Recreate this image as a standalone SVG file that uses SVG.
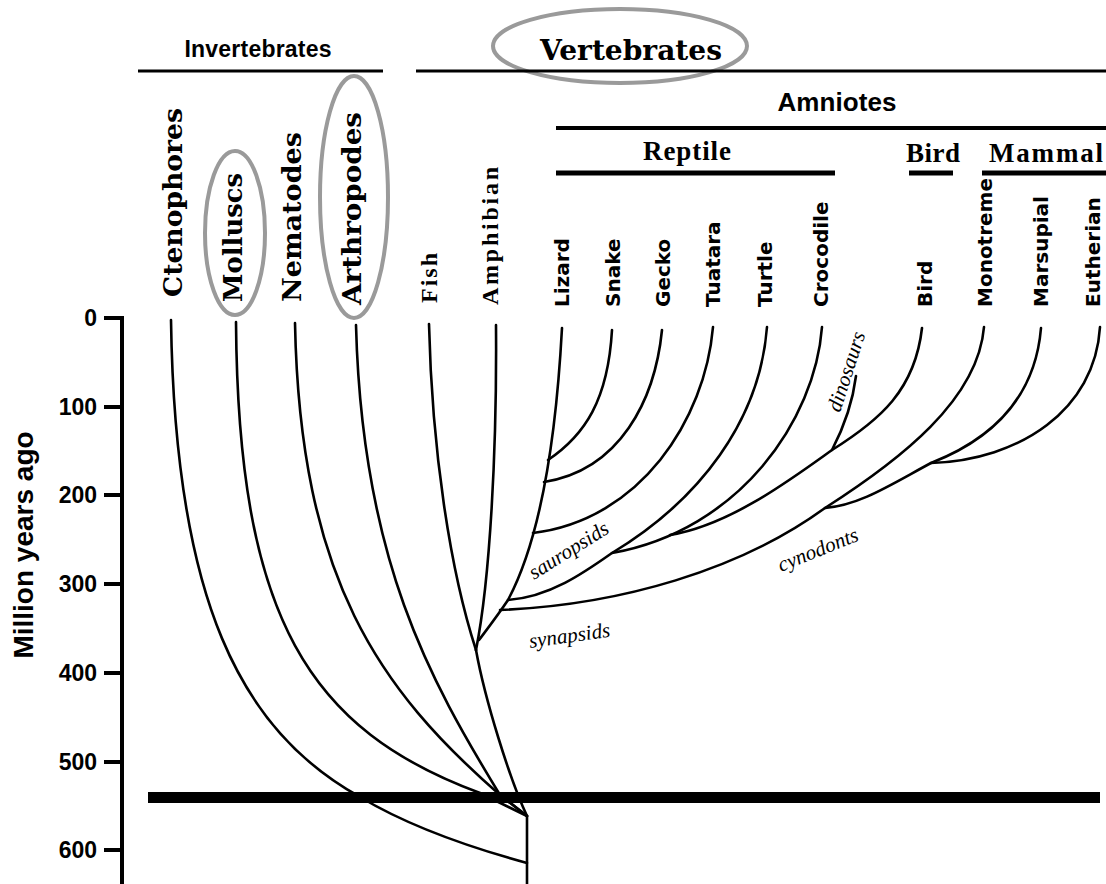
<svg xmlns="http://www.w3.org/2000/svg" width="1106" height="884" viewBox="0 0 1106 884">
<style>
.tree{fill:none;stroke:#000;stroke-width:2.6;stroke-linecap:round;stroke-linejoin:round}
.bar{stroke:#000;fill:none}
.oval{fill:none;stroke:#9a9a9a;stroke-width:4}
.sans{font-family:"Liberation Sans",Arial,sans-serif;font-weight:bold;fill:#000}
.taxon{font-family:"DejaVu Sans",sans-serif;font-weight:bold;font-size:20px;fill:#000}
.fancy{font-family:"DejaVu Serif",serif;font-weight:bold;fill:#000}
.serif{font-family:"Liberation Serif","Times New Roman",serif;font-weight:bold;fill:#000}
.ital{font-family:"Liberation Serif","Times New Roman",serif;font-style:italic;font-size:21px;fill:#000}
.tick{font-family:"Liberation Sans",Arial,sans-serif;font-weight:bold;font-size:23px;text-anchor:end}
</style>
<rect width="1106" height="884" fill="#fff"/>

<g id="headers">
  <g id="invertebrates">
    <text class="sans" x="258" y="57" font-size="23" text-anchor="middle" textLength="147">Invertebrates</text>
    <line class="bar" x1="138" y1="71" x2="383" y2="71" stroke-width="3"/>
  </g>
  <g id="vertebrates">
    <ellipse class="oval" cx="620" cy="46" rx="127" ry="37"/>
    <text class="fancy" x="540" y="60" font-size="28" textLength="182" lengthAdjust="spacingAndGlyphs">Vertebrates</text>
    <line class="bar" x1="416" y1="71" x2="1106" y2="71" stroke-width="3"/>
  </g>
  <g id="amniotes">
    <text class="sans" x="837" y="111" font-size="26" text-anchor="middle" textLength="119">Amniotes</text>
    <line class="bar" x1="556" y1="128" x2="1106" y2="128" stroke-width="4"/>
  </g>
  <g id="reptile">
    <text class="serif" x="687" y="160" font-size="27" text-anchor="middle" textLength="88">Reptile</text>
    <line class="bar" x1="556" y1="173" x2="835" y2="173" stroke-width="5"/>
  </g>
  <g id="bird-group">
    <text class="serif" x="933" y="162" font-size="27" text-anchor="middle" textLength="54">Bird</text>
    <line class="bar" x1="909" y1="173" x2="953" y2="173" stroke-width="5"/>
  </g>
  <g id="mammal">
    <text class="serif" x="1046" y="162" font-size="27" text-anchor="middle" textLength="114">Mammal</text>
    <line class="bar" x1="982" y1="173" x2="1106" y2="173" stroke-width="5"/>
  </g>
</g>

<g id="axis">
  <text class="sans" font-size="28" transform="translate(33,545) rotate(-90)" text-anchor="middle">Million years ago</text>
  <line x1="122" y1="316" x2="122" y2="884" stroke="#000" stroke-width="4"/>
  <g stroke="#000" stroke-width="4">
    <line x1="104" y1="318" x2="122" y2="318"/>
    <line x1="104" y1="407" x2="122" y2="407"/>
    <line x1="104" y1="495" x2="122" y2="495"/>
    <line x1="104" y1="584" x2="122" y2="584"/>
    <line x1="104" y1="673" x2="122" y2="673"/>
    <line x1="104" y1="762" x2="122" y2="762"/>
    <line x1="104" y1="850" x2="122" y2="850"/>
  </g>
  <text class="tick" x="97" y="326">0</text>
  <text class="tick" x="97" y="415">100</text>
  <text class="tick" x="97" y="503">200</text>
  <text class="tick" x="97" y="592">300</text>
  <text class="tick" x="97" y="681">400</text>
  <text class="tick" x="97" y="770">500</text>
  <text class="tick" x="97" y="858">600</text>
</g>

<g id="connectors">
  <path class="tree" d="M171,320 C175,600 240,730 360,797 C395,818 450,842 527,863"/>
  <path class="tree" d="M236,322 C238,620 310,730 480,793 L527,816"/>
  <path class="tree" d="M295,323 C300,580 380,690 500,795 L527,816"/>
  <path class="tree" d="M356,325 C362,560 430,680 500,795 L527,816"/>
  <path class="tree" d="M429,324 C432,450 450,570 476,650"/>
  <path class="tree" d="M496,325 C497,450 490,580 476,650"/>
  <path class="tree" d="M476,650 C485,700 510,780 527,816 L527,884"/>
  <path class="tree" d="M562,328 C556,440 540,540 508,600 C498,615 488,628 479,640"/>
  <path class="tree" d="M612,330 C608,400 585,435 548,460"/>
  <path class="tree" d="M662,330 C655,400 620,470 544,482"/>
  <path class="tree" d="M713,327 C705,420 640,520 533,533"/>
  <path class="tree" d="M767,327 C760,420 700,500 612,553 C585,572 550,597 508,600"/>
  <path class="tree" d="M822,327 C815,420 740,530 612,553"/>
  <path class="tree" d="M922,328 C915,390 880,420 832,450 C790,480 730,525 670,535"/>
  <path class="tree" d="M832,450 C845,425 853,400 856,376"/>
  <path class="tree" d="M500,610 C620,605 740,570 825,508 C900,460 978,400 984,327"/>
  <path class="tree" d="M1041,328 C1035,400 990,440 931,463 C890,485 860,505 825,508"/>
  <path class="tree" d="M1100,327 C1095,410 1020,460 931,463"/>
</g>

<rect id="extinction-bar" x="148" y="792" width="952" height="11" fill="#000"/>

<g id="ctenophores"><text class="fancy" font-size="26" transform="translate(182,297) rotate(-90)" textLength="189" lengthAdjust="spacingAndGlyphs">Ctenophores</text></g>
<g id="molluscs"><ellipse class="oval" cx="235" cy="233" rx="30" ry="82"/><text class="fancy" font-size="26" transform="translate(242,302) rotate(-90)" textLength="129" lengthAdjust="spacingAndGlyphs">Molluscs</text></g>
<g id="nematodes"><text class="fancy" font-size="26" transform="translate(301,302) rotate(-90)" textLength="170" lengthAdjust="spacingAndGlyphs">Nematodes</text></g>
<g id="arthropodes"><ellipse class="oval" cx="354" cy="197" rx="34" ry="121"/><text class="fancy" font-size="26" transform="translate(361,305) rotate(-90)" textLength="193" lengthAdjust="spacingAndGlyphs">Arthropodes</text></g>
<g id="fish"><text class="serif" font-size="24" transform="translate(437,303) rotate(-90)" textLength="50">Fish</text></g>
<g id="amphibian"><text class="serif" font-size="24" transform="translate(498,305) rotate(-90)" textLength="138">Amphibian</text></g>

<g id="lizard"><text class="taxon" transform="translate(569,307) rotate(-90)">Lizard</text></g>
<g id="snake"><text class="taxon" transform="translate(620,307) rotate(-90)">Snake</text></g>
<g id="gecko"><text class="taxon" transform="translate(670,307) rotate(-90)">Gecko</text></g>
<g id="tuatara"><text class="taxon" transform="translate(720,307) rotate(-90)">Tuatara</text></g>
<g id="turtle"><text class="taxon" transform="translate(772,307) rotate(-90)">Turtle</text></g>
<g id="crocodile"><text class="taxon" transform="translate(828,307) rotate(-90)">Crocodile</text></g>
<g id="bird"><text class="taxon" transform="translate(932,307) rotate(-90)">Bird</text></g>
<g id="monotreme"><text class="taxon" transform="translate(992,307) rotate(-90)">Monotreme</text></g>
<g id="marsupial"><text class="taxon" transform="translate(1048,307) rotate(-90)">Marsupial</text></g>
<g id="eutherian"><text class="taxon" transform="translate(1100,307) rotate(-90)">Eutherian</text></g>

<g id="clade-labels">
  <text class="ital" transform="translate(534,580) rotate(-32)">sauropsids</text>
  <text class="ital" transform="translate(530,648) rotate(-8)">synapsids</text>
  <text class="ital" transform="translate(781,572) rotate(-22)">cynodonts</text>
  <text class="ital" transform="translate(840,413) rotate(-72)">dinosaurs</text>
</g>
</svg>
